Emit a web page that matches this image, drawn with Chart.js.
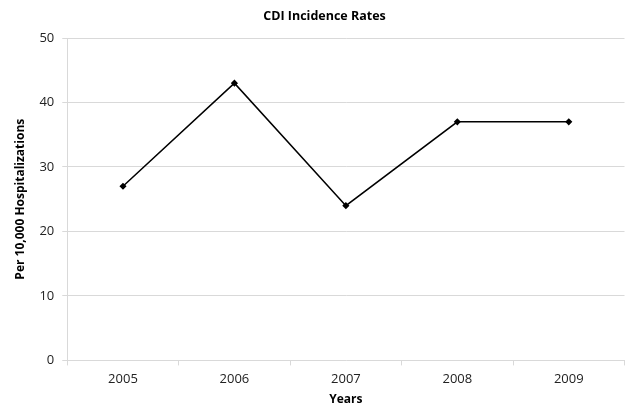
<!DOCTYPE html>
<html>
<head>
<meta charset="utf-8">
<script src="https://cdn.jsdelivr.net/npm/chart.js@4"></script>
<style>
  html, body { margin: 0; padding: 0; background: #fff; }
  #wrap { width: 630px; height: 406px; }
</style>
</head>
<body>
<div id="wrap"><canvas id="chart"></canvas></div>
<script>
// CDI incidence per 10,000 hospitalizations
const years = ['2005', '2006', '2007', '2008', '2009'];
const rates = [27, 43, 24, 37, 37];
const yTicks = [0, 10, 20, 30, 40, 50];

const FONT = '"Open Sans", "Liberation Sans", sans-serif';
const GRID = '#d9d9d9';

new Chart(document.getElementById('chart'), {
    type: 'line',
    data: {
        labels: years,
        datasets: [{
            data: rates,
            borderColor: '#000',
            backgroundColor: '#000',
            borderWidth: 1.5,
            pointStyle: 'rectRot',
            pointRadius: 2.5,
            tension: 0
        }]
    },
    options: {
        responsive: true,
        maintainAspectRatio: false,
        animation: false,
        layout: { padding: { left: 13, right: -6, top: 5, bottom: 0 } },
        plugins: {
            legend: { display: false },
            tooltip: { enabled: false },
            title: {
                display: true,
                text: 'CDI Incidence Rates',
                color: '#000',
                font: { family: FONT, size: 12.5, weight: 'bold' },
                padding: { top: 4, bottom: 14 }
            }
        },
        scales: {
            x: {
                offset: true,
                grid: {
                    offset: true,
                    drawOnChartArea: false,
                    drawTicks: true,
                    tickLength: 5,
                    color: GRID
                },
                border: { display: false },
                ticks: {
                    color: '#222',
                    font: { family: FONT, size: 13 },
                    padding: 6
                },
                title: {
                    display: true,
                    text: 'Years',
                    color: '#000',
                    font: { family: FONT, size: 12, weight: 'bold', lineHeight: 1 },
                    padding: { top: 1, bottom: 0 }
                }
            },
            y: {
                min: yTicks[0],
                max: yTicks[yTicks.length - 1],
                afterBuildTicks: axis => { axis.ticks = yTicks.map(v => ({ value: v })); },
                grid: {
                    color: GRID,
                    tickLength: 5,
                    lineWidth: 1
                },
                border: { display: true, color: GRID },
                ticks: {
                    color: '#222',
                    font: { family: FONT, size: 13 },
                    padding: 8
                },
                title: {
                    display: true,
                    text: 'Per 10,000 Hospitalizations',
                    color: '#000',
                    font: { family: FONT, size: 12, weight: 'bold' },
                    padding: { top: 0, bottom: 4 }
                }
            }
        }
    }
});
</script>
</body>
</html>
